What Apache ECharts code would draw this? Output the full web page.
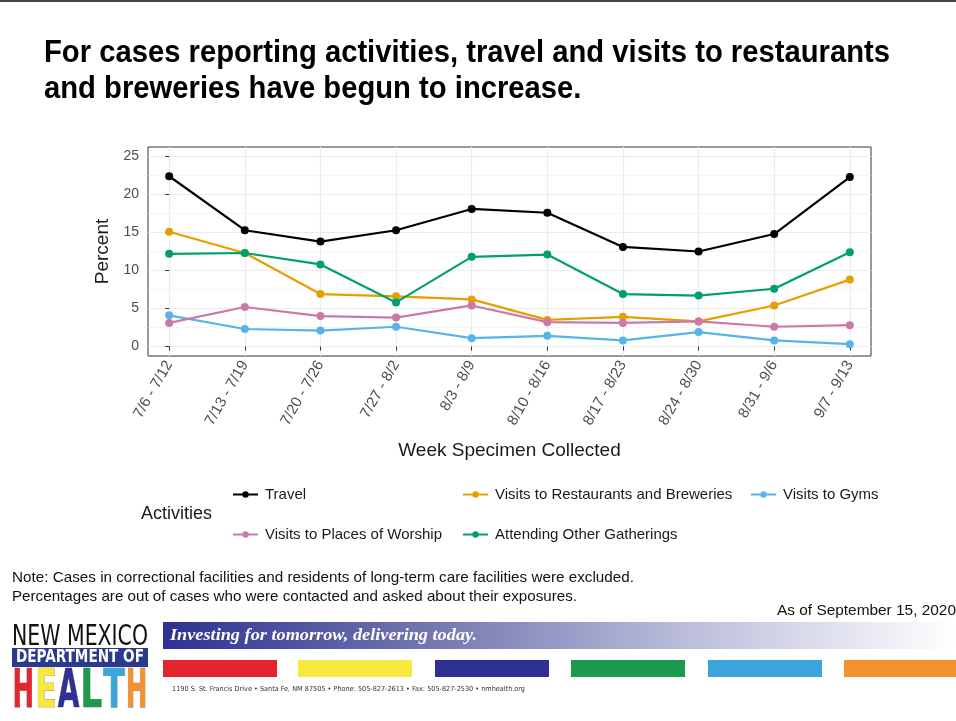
<!DOCTYPE html>
<html><head><meta charset="utf-8">
<script src="https://cdn.jsdelivr.net/npm/echarts@6/dist/echarts.min.js"></script>
<style>html,body{margin:0;padding:0;background:#fff}#c{width:956px;height:721px}</style>
</head><body><div id="c"></div>
<script>
const weeks = ['7/6 - 7/12','7/13 - 7/19','7/20 - 7/26','7/27 - 8/2','8/3 - 8/9','8/10 - 8/16','8/17 - 8/23','8/24 - 8/30','8/31 - 9/6','9/7 - 9/13'];
const travel      = [22.4, 15.3, 13.8, 15.3, 18.1, 17.6, 13.1, 12.5, 14.8, 22.3];
const restaurants = [15.1, 12.3, 6.9, 6.6, 6.2, 3.5, 3.9, 3.3, 5.4, 8.8];
const gyms        = [4.1, 2.3, 2.1, 2.6, 1.1, 1.4, 0.8, 1.9, 0.8, 0.3];
const worship     = [3.1, 5.2, 4.0, 3.8, 5.4, 3.2, 3.1, 3.3, 2.6, 2.8];
const gatherings  = [12.2, 12.3, 10.8, 5.8, 11.8, 12.1, 6.9, 6.7, 7.6, 12.4];
const yTicks = [0, 5, 10, 15, 20, 25];
const yMinor = [2.5, 7.5, 12.5, 17.5, 22.5];
const xTicks = weeks.map((w, i) => i);

const names = ['Travel','Visits to Restaurants and Breweries','Visits to Gyms','Visits to Places of Worship','Attending Other Gatherings'];
const colors = ['#000000','#E69F00','#56B4E9','#CC79A7','#009E73'];
const seriesVals = [travel, restaurants, gyms, worship, gatherings];

const chart = echarts.init(document.getElementById('c'));
const sans = "'Liberation Sans',Arial,sans-serif";
const cond = "'DejaVu Sans Condensed','Liberation Sans',sans-serif";
const ctx = document.createElement('canvas').getContext('2d');
function measure(text, font) { ctx.font = font; return ctx.measureText(text).width; }
function fitText(text, font, x, y, targetW, fill, opts) {
  const s = targetW / measure(text, font);
  return Object.assign({type:'text', x:x, y:y, scaleX:s, style:{text:text, font:font, fill:fill, verticalAlign:'middle'}}, opts || {});
}

const legendPos = [[227,482],[457,482],[745,482],[227,522],[457,522]];
const legends = names.map((n, i) => ({
  data: [n], left: legendPos[i][0], top: legendPos[i][1],
  itemWidth: 25, itemHeight: 8, selectedMode: false,
  textStyle: {fontFamily: sans, fontSize: 15, color: '#1a1a1a', padding: [0,0,0,2]}
}));

const barColors = ['#e4252f','#f7e83e','#2e3192','#1a9a4b','#3aa6dd','#f3922f'];
const barX = [163, 298, 435, 571, 708, 844];
const titleFont = 'bold 32px ' + sans;
const noteFont = '15px ' + sans;
const t1 = 'For cases reporting activities, travel and visits to restaurants';
const t2 = 'and breweries have begun to increase.';
const tScale = 846 / measure(t1, titleFont);
const graphics = [
  {type:'rect', shape:{x:0,y:0,width:956,height:2}, style:{fill:'#444'}},
  fitText(t1, titleFont, 44, 53, 846, '#000'),
  fitText(t2, titleFont, 44, 89, measure(t2, titleFont) * tScale, '#000'),
  {type:'text', x:141, y:514, style:{text:'Activities', font:'18px '+sans, fill:'#1a1a1a', verticalAlign:'middle'}},
  fitText('Note: Cases in correctional facilities and residents of long-term care facilities were excluded.', noteFont, 12, 578, 622, '#111'),
  fitText('Percentages are out of cases who were contacted and asked about their exposures.', noteFont, 12, 597, 565, '#111'),
  fitText('As of September 15, 2020', noteFont, 777, 611, 179, '#111'),
  {type:'rect', shape:{x:163,y:622,width:793,height:27}, style:{fill:{type:'linear',x:0,y:0,x2:1,y2:0,colorStops:[{offset:0,color:'#2e3192'},{offset:0.3,color:'#6b6fab'},{offset:0.65,color:'#b9bbd9'},{offset:1,color:'#ffffff'}]}}},
  fitText('Investing for tomorrow, delivering today.', 'italic bold 17px "Liberation Serif",serif', 170, 636, 307, '#ffffff'),
  fitText('1190 S. St. Francis Drive \u2022 Santa Fe, NM 87505 \u2022 Phone: 505-827-2613 \u2022 Fax: 505-827-2530 \u2022 nmhealth.org', '7px '+cond, 172, 689, 353, '#333'),
  fitText('NEW MEXICO', '29px '+cond, 12, 637, 136, '#111'),
  {type:'rect', shape:{x:12,y:648,width:136,height:19}, style:{fill:'#2b3990'}},
  fitText('DEPARTMENT OF', 'bold 17px '+cond, 16, 658, 128, '#ffffff')
];
barX.forEach((x, i) => {
  graphics.push({type:'rect', shape:{x:x, y:660, width:(i===5?112:114), height:17}, style:{fill:barColors[i]}});
});
const letterFont = 'bold 30px ' + cond;
'HEALTH'.split('').forEach((ch, i) => {
  const cellW = 136 / 6;
  const s = (cellW - 1) / measure(ch, letterFont);
  graphics.push({type:'text', x: 12 + i * cellW + 0.5, y: 666, scaleX: s, scaleY: 1.78, originY: 0,
    style:{text: ch, font: letterFont, fill: barColors[i], verticalAlign:'top', stroke:'#666', lineWidth:0.4}});
});

chart.setOption({
  animation: false,
  legend: legends,
  graphic: graphics,
  grid: {left: 148, right: 85, top: 147, bottom: 365, show: true, borderColor: '#333', borderWidth: 1, backgroundColor: '#fff'},
  xAxis: {
    type: 'value', min: -0.28, max: 9.28,
    name: 'Week Specimen Collected', nameLocation: 'middle', nameGap: 85,
    nameTextStyle: {fontFamily: sans, fontSize: 19, color: '#1a1a1a'},
    axisLine: {show: false},
    axisTick: {show: true, length: 4, customValues: xTicks, lineStyle: {color: '#333'}},
    axisLabel: {customValues: xTicks, rotate: 60, margin: 6, fontFamily: sans, fontSize: 15, color: '#4d4d4d', formatter: v => weeks[Math.round(v)]},
    splitLine: {show: true, lineStyle: {color: '#ebebeb', width: 1.2}}
  },
  yAxis: [{
    type: 'value', min: -1.25, max: 26.25,
    name: 'Percent', nameLocation: 'middle', nameGap: 25, nameRotate: 90,
    nameTextStyle: {fontFamily: sans, fontSize: 19, color: '#1a1a1a'},
    axisLine: {show: false},
    axisTick: {show: true, length: 4, customValues: yTicks, lineStyle: {color: '#333'}},
    axisLabel: {customValues: yTicks, margin: 9, fontFamily: sans, fontSize: 14, color: '#4d4d4d'},
    splitLine: {show: true, lineStyle: {color: '#ebebeb', width: 1.2}}
  }, {
    type: 'value', min: -1.25, max: 26.25, position: 'left',
    axisLine: {show: false},
    axisTick: {show: false, customValues: yMinor},
    axisLabel: {show: false, customValues: yMinor},
    splitLine: {show: true, lineStyle: {color: '#f2f2f2', width: 0.7}}
  }],
  series: names.map((n, i) => ({
    name: n, type: 'line', yAxisIndex: 0,
    data: seriesVals[i].map((v, j) => [j, v]),
    symbol: 'circle', symbolSize: 8,
    lineStyle: {color: colors[i], width: 2.2},
    itemStyle: {color: colors[i]},
    z: 3 + i
  }))
});
</script>
</body></html>
